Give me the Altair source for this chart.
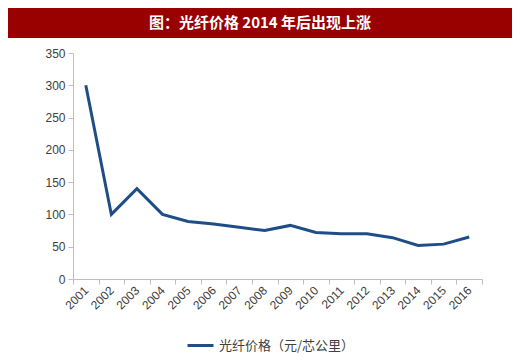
import altair as alt
import pandas as pd

years = [str(y) for y in range(2001, 2017)]
prices = [300, 100, 140, 100, 89, 85, 80, 75, 83, 72, 70, 70, 64, 52, 54, 65]
series_name = "光纤价格（元/芯公里）"
title_text = "图：光纤价格 2014 年后出现上涨"

df = pd.DataFrame({"year": years, "price": prices, "series": series_name})

W, H = 409, 226

line = alt.Chart(df).mark_line(strokeWidth=3, color="#1F4E86").encode(
    x=alt.X("year:N", sort=years, title=None,
            scale=alt.Scale(paddingInner=0, paddingOuter=0),
            axis=alt.Axis(labelAngle=-45, labelAlign="right", labelBaseline="middle",
                          tickBand="extent", tickSize=5, labelPadding=4,
                          labelFontSize=12, labelColor="#404040", labelFont="Liberation Sans",
                          domainColor="#BFBFBF", tickColor="#BFBFBF")),
    y=alt.Y("price:Q", title=None,
            scale=alt.Scale(domain=[0, 350]),
            axis=alt.Axis(values=list(range(0, 351, 50)), grid=False, tickSize=5,
                          labelFontSize=12, labelColor="#404040", labelFont="Liberation Sans",
                          labelPadding=3,
                          domainColor="#BFBFBF", tickColor="#BFBFBF")),
    color=alt.Color("series:N", scale=alt.Scale(range=["#1F4E86"]), title=None,
                    legend=alt.Legend(orient="none", legendX=113, legendY=278,
                                      symbolType="stroke", symbolSize=676, symbolStrokeWidth=3,
                                      labelFontSize=13, labelColor="#404040",
                                      labelFont="Noto Sans CJK SC", labelLimit=300)),
)

bar_df = pd.DataFrame({"t": [title_text]})
bar = alt.Chart(bar_df).mark_rect(color="#990000").encode(
    x=alt.value(-65), x2=alt.value(W + 30), y=alt.value(-45), y2=alt.value(-15)
)
title = alt.Chart(bar_df).mark_text(color="white", font="Noto Sans CJK SC", fontSize=15,
                                    fontWeight="bold", align="center", baseline="middle").encode(
    x=alt.value(187), y=alt.value(-30), text="t:N"
)

chart = alt.layer(bar, title, line).properties(
    width=W, height=H,
    autosize=alt.AutoSizeParams(type="none"),
    padding={"left": 65, "top": 45, "right": 30, "bottom": 76},
).configure_view(stroke=None)

chart.save("out.html", embed_options={"renderer": "svg", "actions": False})
